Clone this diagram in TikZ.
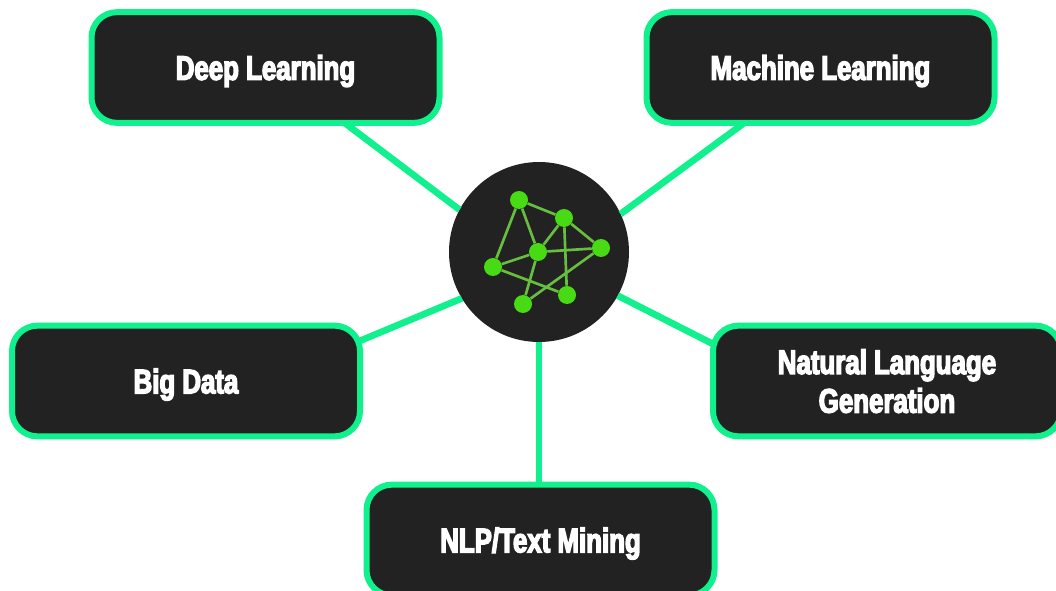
\documentclass[tikz,border=0pt]{standalone}
\usepackage{xcolor}
\usepackage{fontspec}
\setmainfont{Liberation Sans}[BoldFeatures={FakeStretch=0.76,FakeBold=4}]
\usetikzlibrary{positioning}
\definecolor{spokecolor}{RGB}{16, 240, 140}
\definecolor{boxcolor}{RGB}{34, 34, 34}
\definecolor{dotcolor}{RGB}{72, 218, 20}
\definecolor{linkcolor}{RGB}{104, 190, 62}

\begin{document}
\begin{tikzpicture}[
    x=0.75pt, y=-0.75pt,
    topic/.style={draw=spokecolor, fill=boxcolor, line width=4.5pt, rounded corners=19pt, minimum width=261pt, minimum height=83pt, outer sep=0pt, text=white, align=center, text depth=0pt, font=\fontsize{25.5}{29}\selectfont\bfseries},
    hub/.style={circle, fill=boxcolor, minimum size=135pt, inner sep=0pt, outer sep=0pt},
    dot/.style={circle, fill=dotcolor, minimum size=13.5pt, inner sep=0pt},
    link/.style={draw=linkcolor, line width=2pt},
    spoke/.style={draw=spokecolor, line width=5pt}
]
    \useasboundingbox (0, 0) rectangle (1056, 591);

    % Centre circle
    \node[hub] (centre) at (539, 252) {};

    % Topics
    \node[topic] (deep) at (265.5, 67.5) {Deep Learning};
    \node[topic] (machine) at (820.5, 67.5) {Machine Learning};
    \node[topic] (bigdata) at (186, 381) {Big Data};
    \node[topic] (nlg) at (887, 381) {Natural Language\\Generation};
    \node[topic] (nlp) at (540.5, 540) {NLP/Text Mining};

    % Icon links
    \node[dot] (n1) at (519, 200) {};
    \node[dot] (n2) at (564, 218) {};
    \node[dot] (n3) at (601, 248) {};
    \node[dot] (n4) at (538, 252) {};
    \node[dot] (n5) at (493, 267) {};
    \node[dot] (n6) at (523, 304) {};
    \node[dot] (n7) at (567, 295) {};
    \draw[link] (n1) -- (n2);
    \draw[link] (n1) -- (n5);
    \draw[link] (n1) -- (n4);
    \draw[link] (n2) -- (n4);
    \draw[link] (n2) -- (n3);
    \draw[link] (n2) -- (n7);
    \draw[link] (n4) -- (n3);
    \draw[link] (n4) -- (n5);
    \draw[link] (n4) -- (n6);
    \draw[link] (n5) -- (n7);
    \draw[link] (n6) -- (n3);

    % Connections
    \draw[spoke] (deep.-35) -- (centre.152);
    \draw[spoke] (machine.-144) -- (centre.25);
    \draw[spoke] (bigdata.13) -- (centre.211);
    \draw[spoke] (nlg.168) -- (centre.-29);
    \draw[spoke] (nlp.north -| centre) -- (centre.south);
\end{tikzpicture}
\end{document}
